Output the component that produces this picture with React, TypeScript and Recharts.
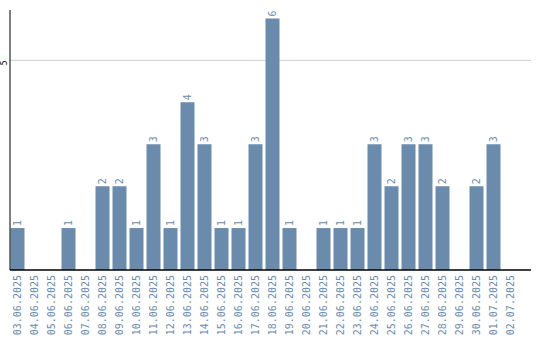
import { Bar, BarChart, CartesianGrid, LabelList, XAxis, YAxis } from "recharts";

const days = [
  "03.06.2025", "04.06.2025", "05.06.2025", "06.06.2025", "07.06.2025",
  "08.06.2025", "09.06.2025", "10.06.2025", "11.06.2025", "12.06.2025",
  "13.06.2025", "14.06.2025", "15.06.2025", "16.06.2025", "17.06.2025",
  "18.06.2025", "19.06.2025", "20.06.2025", "21.06.2025", "22.06.2025",
  "23.06.2025", "24.06.2025", "25.06.2025", "26.06.2025", "27.06.2025",
  "28.06.2025", "29.06.2025", "30.06.2025", "01.07.2025", "02.07.2025",
];

const counts = [
  1, 0, 0, 1, 0, 2, 2, 1, 3, 1, 4, 3, 1, 1, 3, 6, 1, 0, 1, 1, 1, 3, 2, 3, 3, 2,
  0, 2, 3, 0,
];

const yTicks = [5];

const data = days.map((day, i) => ({ day, count: counts[i] }));

const SLATE = "#6a8bab";
const MONO = "'DejaVu Sans Mono', monospace";

function DayTick({
  x,
  payload,
}: {
  x?: number;
  y?: number;
  payload?: { value: string };
}) {
  return (
    <text
      transform={`translate(${x},275) rotate(-90)`}
      textAnchor="end"
      dy="0.35em"
      fill={SLATE}
      fontSize={10}
      fontFamily={MONO}
    >
      {payload?.value}
    </text>
  );
}

function CountTick({
  y,
  payload,
}: {
  x?: number;
  y?: number;
  payload?: { value: number };
}) {
  return (
    <text
      transform={`translate(4.5,${y}) rotate(-90)`}
      textAnchor="end"
      dy="0.35em"
      fill="#000"
      fontSize={8}
      fontFamily={MONO}
    >
      {payload?.value}
    </text>
  );
}

function CountLabel(props: {
  x?: number;
  y?: number;
  width?: number;
  value?: number;
}) {
  const { x = 0, y = 0, width = 0, value } = props;
  if (!value) return null;
  return (
    <text
      transform={`translate(${x + width / 2},${y - 2}) rotate(-90)`}
      textAnchor="start"
      dy="0.35em"
      fill={SLATE}
      fontSize={10}
      fontFamily={MONO}
    >
      {value}
    </text>
  );
}

export default function App() {
  return (
    <div>
      <style>{`body{margin:0}`}</style>
      <BarChart
        width={540}
        height={340}
        data={data}
        margin={{ top: 10, right: 9, left: 0, bottom: 0 }}
        barCategoryGap={0}
      >
        <CartesianGrid
          vertical={false}
          horizontalValues={yTicks}
          stroke="#cccccc"
        />
        <XAxis
          dataKey="day"
          interval={0}
          height={70}
          padding={{ left: -1.5, right: 12.5 }}
          tick={<DayTick />}
          tickLine={false}
          axisLine={{ stroke: "#000", strokeWidth: 1.5 }}
        />
        <YAxis
          width={10}
          domain={[0, 6.2]}
          ticks={yTicks}
          tick={<CountTick />}
          tickLine={false}
          axisLine={{ stroke: "#000" }}
        />
        <Bar
          dataKey="count"
          fill={SLATE}
          barSize={14}
          isAnimationActive={false}
        >
          <LabelList dataKey="count" content={<CountLabel />} />
        </Bar>
      </BarChart>
    </div>
  );
}
